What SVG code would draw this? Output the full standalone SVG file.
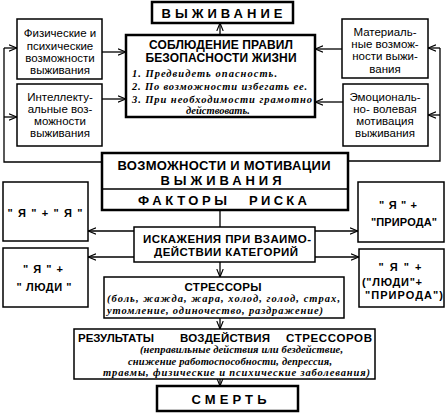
<svg xmlns="http://www.w3.org/2000/svg" width="448" height="418" viewBox="0 0 448 418">
<style>
.b{fill:#fff;stroke:#000;stroke-width:1.5}
.t{fill:#fff;stroke:#000;stroke-width:2.5}
.h{font-family:"Liberation Sans",Arial,sans-serif;font-weight:bold;fill:#000}
.r{font-family:"Liberation Sans",Arial,sans-serif;font-size:11.5px;fill:#000;text-anchor:middle}
.i{font-family:"Liberation Serif","Times New Roman",serif;font-weight:bold;font-style:italic;font-size:10.5px;fill:#000}
.c{text-anchor:middle}
.ln{fill:none;stroke:#000;stroke-width:1.3}
</style>
<defs>
<marker id="ah" viewBox="0 0 10 10" refX="10" refY="5" markerWidth="8" markerHeight="8" orient="auto" markerUnits="userSpaceOnUse">
<path d="M0,1 L10,5 L0,9" fill="none" stroke="#000" stroke-width="1.4"/>
</marker>
</defs>
<rect width="448" height="418" fill="#fff"/>
<g id="connectors">
<path class="ln" d="M220,35 V23" marker-end="url(#ah)"/>
<path class="ln" d="M102,52 H126" marker-end="url(#ah)"/>
<path class="ln" d="M102,99 H126" marker-end="url(#ah)"/>
<path class="ln" d="M342,49 H315" marker-end="url(#ah)"/>
<path class="ln" d="M343,102 H315" marker-end="url(#ah)"/>
<path class="ln" d="M102,162 H4 V48"/>
<path class="ln" d="M4,48 H17" marker-end="url(#ah)"/>
<path class="ln" d="M4,117 H17" marker-end="url(#ah)"/>
<path class="ln" d="M348,161 H440 V48"/>
<path class="ln" d="M440,48 H428" marker-end="url(#ah)"/>
<path class="ln" d="M440,115 H428" marker-end="url(#ah)"/>
<path class="ln" d="M220,210 V227"/>
<path class="ln" d="M134,231 H88" marker-end="url(#ah)"/>
<path class="ln" d="M134,257 H88" marker-end="url(#ah)"/>
<path class="ln" d="M315,231 H358" marker-end="url(#ah)"/>
<path class="ln" d="M315,257 H359" marker-end="url(#ah)"/>
<path class="ln" d="M220,262 V277" marker-end="url(#ah)"/>
<path class="ln" d="M220,318 V329" marker-end="url(#ah)"/>
<path class="ln" d="M220,379 V386" marker-end="url(#ah)"/>
</g>
<g id="survival">
<rect class="t" x="152" y="2" width="141" height="21"/>
<text class="h c" x="222" y="17.5" font-size="13" textLength="121">ВЫЖИВАНИЕ</text>
</g>
<g id="rules">
<rect class="t" x="126" y="35" width="189" height="82"/>
<text class="h c" x="221" y="49" font-size="12" textLength="144">СОБЛЮДЕНИЕ ПРАВИЛ</text>
<text class="h c" x="221" y="62" font-size="12" textLength="151">БЕЗОПАСНОСТИ ЖИЗНИ</text>
<text class="i" x="132" y="77" textLength="145">1. Предвидеть опасность.</text>
<text class="i" x="132" y="90" textLength="175">2. По возможности избегать ее.</text>
<text class="i" x="132" y="103" textLength="180">3. При необходимости грамотно</text>
<text class="i c" x="218" y="114">действовать.</text>
</g>
<g id="phys">
<rect class="b" x="17" y="19" width="85" height="60"/>
<text class="r" x="60" y="37">Физические и</text>
<text class="r" x="60" y="50">психические</text>
<text class="r" x="60" y="62">возможности</text>
<text class="r" x="60" y="74">выживания</text>
</g>
<g id="intel">
<rect class="b" x="17" y="84" width="85" height="62"/>
<text class="r" x="60" y="101">Интеллекту-</text>
<text class="r" x="60" y="113">альные воз-</text>
<text class="r" x="60" y="125">можности</text>
<text class="r" x="60" y="137">выживания</text>
</g>
<g id="mater">
<rect class="b" x="342" y="19" width="86" height="59"/>
<text class="r" x="385" y="36">Материаль-</text>
<text class="r" x="385" y="48">ные возмож-</text>
<text class="r" x="385" y="60">ности выжи-</text>
<text class="r" x="385" y="73">вания</text>
</g>
<g id="emot">
<rect class="b" x="343" y="84" width="85" height="62"/>
<text class="r" x="385" y="101">Эмоциональ-</text>
<text class="r" x="385" y="113">но- волевая</text>
<text class="r" x="385" y="125">мотивация</text>
<text class="r" x="385" y="137">выживания</text>
</g>
<g id="abilities">
<rect class="t" x="102" y="153" width="246" height="57"/>
<line x1="102" y1="189" x2="348" y2="189" stroke="#000" stroke-width="1.5"/>
<text class="h c" x="224" y="170" font-size="13" textLength="213">ВОЗМОЖНОСТИ И МОТИВАЦИИ</text>
<text class="h c" x="221" y="185" font-size="13" textLength="121">ВЫЖИВАНИЯ</text>
<text class="h" x="138" y="205" font-size="13" textLength="89">ФАКТОРЫ</text>
<text class="h" x="249" y="205" font-size="13" textLength="58">РИСКА</text>
</g>
<g id="distort">
<rect class="b" x="134" y="227" width="181" height="35"/>
<text class="h c" x="227" y="243" font-size="11.5" textLength="168">ИСКАЖЕНИЯ ПРИ ВЗАИМО-</text>
<text class="h c" x="226" y="256" font-size="11.5" textLength="144">ДЕЙСТВИИ КАТЕГОРИЙ</text>
</g>
<g id="ya-ya">
<rect class="b" x="3" y="182" width="85" height="59"/>
<text class="h c" x="45" y="217" font-size="11" textLength="75">" Я " + " Я "</text>
</g>
<g id="ya-people">
<rect class="b" x="3" y="248" width="85" height="59"/>
<text class="h c" x="43" y="273" font-size="11" textLength="40">" Я " +</text>
<text class="h c" x="44" y="291" font-size="11" textLength="55">" ЛЮДИ "</text>
</g>
<g id="ya-nature">
<rect class="b" x="358" y="182" width="86" height="60"/>
<text class="h c" x="398" y="209" font-size="11" textLength="38">" Я "  +</text>
<text class="h c" x="404" y="226" font-size="11" textLength="66">"ПРИРОДА"</text>
</g>
<g id="ya-both">
<rect class="b" x="359" y="249" width="85" height="58"/>
<text class="h c" x="400" y="271" font-size="11" textLength="43">" Я " +</text>
<text class="h c" x="392" y="286" font-size="11" textLength="60">("ЛЮДИ"+</text>
<text class="h c" x="404" y="299" font-size="11" textLength="78">"ПРИРОДА")</text>
</g>
<g id="stressors">
<rect class="b" x="104" y="277" width="240" height="41"/>
<text class="h c" x="223" y="291" font-size="11.5" textLength="77">СТРЕССОРЫ</text>
<text class="i" x="107" y="302" textLength="233">(боль, жажда, жара, холод, голод, страх,</text>
<text class="i" x="107" y="314" textLength="216">утомление, одиночество, раздражение)</text>
</g>
<g id="results">
<rect class="b" x="74" y="329" width="301" height="50"/>
<text class="h" x="78" y="342" font-size="11.5" textLength="76">РЕЗУЛЬТАТЫ</text>
<text class="h" x="180" y="342" font-size="11.5" textLength="90">ВОЗДЕЙСТВИЯ</text>
<text class="h" x="286" y="342" font-size="11.5" textLength="86">СТРЕССОРОВ</text>
<text class="i" x="140" y="353" textLength="203">(неправильные действия или бездействие,</text>
<text class="i" x="128" y="364.5" textLength="204">снижение работоспособности, депрессия,</text>
<text class="i" x="103" y="376" textLength="267">травмы, физические и психические заболевания)</text>
</g>
<g id="death">
<rect class="t" x="157" y="386" width="141" height="25"/>
<text class="h c" x="229" y="403.5" font-size="13" textLength="75">СМЕРТЬ</text>
</g>
</svg>
